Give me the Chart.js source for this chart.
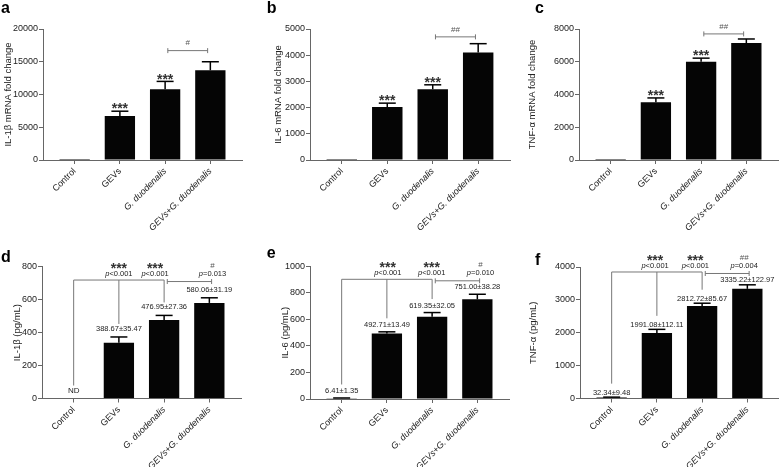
<!DOCTYPE html>
<html><head><meta charset="utf-8">
<script src="https://cdn.jsdelivr.net/npm/chart.js@4.4.0/dist/chart.umd.min.js"></script>
<style>
html,body{margin:0;padding:0;background:#fff;}
#wrap{position:relative;width:779px;height:467px;overflow:hidden;background:#fff;}
canvas{position:absolute;}
</style></head><body><div id="wrap"></div>
<script>
// ---------- data ----------
const CATEGORIES = ['Control', 'GEVs', 'G. duodenalis', 'GEVs+G. duodenalis'];

const IL1B_MRNA = [1, 6700, 10800, 13700];
const IL1B_MRNA_ERR = [0, 750, 1200, 1300];
const IL6_MRNA = [1, 2020, 2700, 4100];
const IL6_MRNA_ERR = [0, 150, 170, 340];
const TNF_MRNA = [1, 3530, 6000, 7140];
const TNF_MRNA_ERR = [0, 260, 220, 250];

const IL1B_PG = [null, 338, 476.95, 580.06];
const IL1B_PG_ERR = [0, 35.47, 27.36, 31.19];
const IL1B_PG_LABELS = ['ND', '388.67±35.47', '476.95±27.36', '580.06±31.19'];
const IL6_PG = [6.41, 492.71, 619.35, 751.00];
const IL6_PG_ERR = [1.35, 13.49, 32.05, 38.28];
const IL6_PG_LABELS = ['6.41±1.35', '492.71±13.49', '619.35±32.05', '751.00±38.28'];
const TNF_PG = [32.34, 1991.08, 2812.72, 3335.22];
const TNF_PG_ERR = [9.48, 112.11, 85.67, 122.97];
const TNF_PG_LABELS = ['32.34±9.48', '1991.08±112.11', '2812.72±85.67', '3335.22±122.97'];

const Y_TICKS_A = [0, 5000, 10000, 15000, 20000];
const Y_TICKS_B = [0, 1000, 2000, 3000, 4000, 5000];
const Y_TICKS_C = [0, 2000, 4000, 6000, 8000];
const Y_TICKS_D = [0, 200, 400, 600, 800];
const Y_TICKS_E = [0, 200, 400, 600, 800, 1000];
const Y_TICKS_F = [0, 1000, 2000, 3000, 4000];

const Y_TITLES = ['IL-1β mRNA fold change', 'IL-6 mRNA fold change', 'TNF-α mRNA fold change',
                  'IL-1β (pg/mL)', 'IL-6 (pg/mL)', 'TNF-α (pg/mL)'];
const PANEL_LETTERS = ['a', 'b', 'c', 'd', 'e', 'f'];

// ---------- style ----------
const FF = "'Liberation Sans', Arial, Helvetica, sans-serif";
const AX = '#666';
const TXT = '#222';
Chart.defaults.font.family = FF;
Chart.defaults.color = TXT;

// ---------- panel layout & annotation specs ----------
const PANELS = [
  {vals: IL1B_MRNA, errs: IL1B_MRNA_ERR, yTicks: Y_TICKS_A,
   box: {left: 0, top: 0, w: 260, h: 230, padT: 29, padR: 18, yW: 43, xH: 70, titlePad: 2.3, lx: 1, ly: 12.7},
   top: {stars: [null, '***', '***', null], starGap: 6, bracket: {from: 2.06, to: 2.94, level: 16700, text: '#'}}},
  {vals: IL6_MRNA, errs: IL6_MRNA_ERR, yTicks: Y_TICKS_B,
   box: {left: 255, top: 0, w: 260, h: 230, padT: 29, padR: 5, yW: 55, xH: 70, titlePad: 18, lx: 11.7, ly: 12.7},
   top: {stars: [null, '***', '***', null], starGap: 6, bracket: {from: 2.06, to: 2.94, level: 4700, text: '##'}}},
  {vals: TNF_MRNA, errs: TNF_MRNA_ERR, yTicks: Y_TICKS_C,
   box: {left: 515, top: 0, w: 264, h: 230, padT: 29, padR: 1, yW: 64, xH: 70, titlePad: 11.8, lx: 20, ly: 12.7},
   top: {stars: [null, '***', '***', null], starGap: 6, bracket: {from: 2.06, to: 2.94, level: 7700, text: '##'}}},
  {vals: IL1B_PG, errs: IL1B_PG_ERR, yTicks: Y_TICKS_D,
   box: {left: 0, top: 230, w: 255, h: 237, padT: 36.7, padR: 14, yW: 42, xH: 68.5, titlePad: 11.8, lx: 1, ly: 32.3},
   bottom: {labels: IL1B_PG_LABELS, labelGap: 8, lineGap: 5, level: 719, at: [0, 1, 2],
            bracket: {from: 2.07, to: 3.05},
            marks: [{x: 1, s: '***', p: '<0.001'}, {x: 1.8, s: '***', p: '<0.001'}, {x: 3.07, s: '#', p: '=0.013'}]}},
  {vals: IL6_PG, errs: IL6_PG_ERR, yTicks: Y_TICKS_E,
   box: {left: 255, top: 230, w: 260, h: 237, padT: 36.3, padR: 6, yW: 55, xH: 68, titlePad: 24.3, lx: 11.7, ly: 28.3},
   bottom: {labels: IL6_PG_LABELS, labelGap: 7, lineGap: 6.5, level: 902, at: [0, 1, 2],
            bracket: {from: 2.07, to: 3.05},
            marks: [{x: 1.02, s: '***', p: '<0.001'}, {x: 1.99, s: '***', p: '<0.001'}, {x: 3.07, s: '#', p: '=0.010'}]}},
  {vals: TNF_PG, errs: TNF_PG_ERR, yTicks: Y_TICKS_F,
   box: {left: 515, top: 230, w: 264, h: 237, padT: 37, padR: 0, yW: 65, xH: 68.5, titlePad: 12.6, lx: 20, ly: 35},
   bottom: {labels: TNF_PG_LABELS, labelGap: 4.5, lineGap: 9, level: 3848, at: [0, 1, 2],
            bracket: {from: 2.07, to: 3.04},
            marks: [{x: 0.96, s: '***', p: '<0.001'}, {x: 1.85, s: '***', p: '<0.001'}, {x: 2.93, s: '##', p: '=0.004'}]}}
];

// ---------- drawing helpers ----------
function drawStars(ctx, text, cx, cy) {
  const isHash = text.indexOf('#') >= 0;
  const size = isHash ? 8 : 14;
  ctx.font = (isHash ? '' : 'bold ') + size + 'px ' + FF;
  ctx.textAlign = 'center';
  ctx.textBaseline = 'alphabetic';
  ctx.fillStyle = isHash ? '#555' : '#333';
  ctx.fillText(text, cx, cy + (isHash ? 0.35 : 0.58) * size);
}
function drawP(ctx, rest, cx, cy) {
  const size = 7.5;
  const it = 'italic ' + size + 'px ' + FF, no = size + 'px ' + FF;
  ctx.font = it; const w1 = ctx.measureText('p').width;
  ctx.font = no; const w2 = ctx.measureText(rest).width;
  const x0 = cx - (w1 + w2) / 2;
  ctx.textAlign = 'left'; ctx.textBaseline = 'middle'; ctx.fillStyle = TXT;
  ctx.font = it; ctx.fillText('p', x0, cy);
  ctx.font = no; ctx.fillText(rest, x0 + w1, cy);
}
function line(ctx, x1, y1, x2, y2) {
  ctx.beginPath(); ctx.moveTo(x1, y1); ctx.lineTo(x2, y2); ctx.stroke();
}

function makePlugin(P, idx) {
  return {
    id: 'annot' + idx,
    afterDatasetsDraw(chart) {
      const ctx = chart.ctx, xs = chart.scales.x, ys = chart.scales.y;
      ctx.save();
      // error bars
      const caps = [];
      P.vals.forEach((v, i) => {
        const x = xs.getPixelForValue(i);
        const base = v == null ? 0 : v;
        const err = P.errs[i] || 0;
        const yTop = ys.getPixelForValue(base);
        const yCap = ys.getPixelForValue(base + err);
        caps.push(yCap);
        if (v != null && err > 0) {
          ctx.strokeStyle = '#000'; ctx.lineWidth = 1.5;
          line(ctx, x, yTop, x, yCap);
          line(ctx, x - 8.5, yCap, x + 8.5, yCap);
        }
      });
      if (P.top) {
        const T = P.top;
        T.stars.forEach((s, i) => { if (s) drawStars(ctx, s, xs.getPixelForValue(i), caps[i] - T.starGap); });
        const B = T.bracket, by = ys.getPixelForValue(B.level);
        const x1 = xs.getPixelForValue(B.from), x2 = xs.getPixelForValue(B.to);
        ctx.strokeStyle = '#777'; ctx.lineWidth = 1;
        line(ctx, x1, by, x2, by);
        line(ctx, x1, by - 2.5, x1, by + 2.5);
        line(ctx, x2, by - 2.5, x2, by + 2.5);
        drawStars(ctx, B.text, (x1 + x2) / 2, by - 8);
      }
      if (P.bottom) {
        const S = P.bottom;
        const labelY = caps.map(c => c - S.labelGap);
        ctx.fillStyle = TXT; ctx.textAlign = 'center'; ctx.textBaseline = 'middle';
        S.labels.forEach((t, i) => {
          ctx.font = (t === 'ND' ? '8px ' : '7.5px ') + FF;
          ctx.fillText(t, xs.getPixelForValue(i), labelY[i]);
        });
        const Ly = ys.getPixelForValue(S.level);
        ctx.strokeStyle = '#777'; ctx.lineWidth = 1;
        const xa = xs.getPixelForValue(S.at[0]), xb = xs.getPixelForValue(S.at[S.at.length - 1]);
        line(ctx, xa, Ly, xb, Ly);
        S.at.forEach(i => {
          const x = xs.getPixelForValue(i);
          line(ctx, x, Ly, x, labelY[i] - S.lineGap);
        });
        const bx1 = xs.getPixelForValue(S.bracket.from), bx2 = xs.getPixelForValue(S.bracket.to), by = Ly + 1.5;
        line(ctx, bx1, by, bx2, by);
        line(ctx, bx1, by - 2.5, bx1, by + 2.5);
        line(ctx, bx2, by - 2.5, bx2, by + 2.5);
        S.marks.forEach(m => {
          const x = xs.getPixelForValue(m.x);
          drawStars(ctx, m.s, x, Ly - 15);
          drawP(ctx, m.p, x, Ly - 6);
        });
      }
      ctx.font = 'bold 16px ' + FF; ctx.fillStyle = '#000'; ctx.textAlign = 'left'; ctx.textBaseline = 'alphabetic';
      ctx.fillText(PANEL_LETTERS[idx], P.box.lx, P.box.ly);
      ctx.restore();
    }
  };
}

// ---------- build charts ----------
const wrap = document.getElementById('wrap');
PANELS.forEach((P, idx) => {
  const b = P.box;
  const cv = document.createElement('canvas');
  cv.width = b.w; cv.height = b.h;
  cv.style.left = b.left + 'px'; cv.style.top = b.top + 'px';
  cv.style.width = b.w + 'px'; cv.style.height = b.h + 'px';
  wrap.appendChild(cv);
  const yMax = P.yTicks[P.yTicks.length - 1];
  new Chart(cv.getContext('2d'), {
    type: 'bar',
    data: {
      datasets: [{
        data: P.vals.map((v, i) => ({x: i, y: v})),
        backgroundColor: '#050505',
        borderWidth: 0,
        categoryPercentage: 1,
        barPercentage: 0.67
      }]
    },
    options: {
      responsive: false, animation: false, devicePixelRatio: 1,
      layout: {padding: {left: 0, top: b.padT, right: b.padR, bottom: 0}},
      plugins: {legend: {display: false}, tooltip: {enabled: false}},
      scales: {
        x: {
          type: 'linear', min: -0.7, max: 3.7, offset: false,
          afterBuildTicks: s => { s.ticks = CATEGORIES.map((c, i) => ({value: i})); },
          afterFit: s => { s.height = b.xH; },
          ticks: {
            autoSkip: false, minRotation: 45, maxRotation: 45, padding: 2, color: TXT,
            font: c => ({size: 9, family: FF, style: (c.index >= 2 ? 'italic' : 'normal')}),
            callback: v => CATEGORIES[v]
          },
          grid: {offset: false, drawOnChartArea: false, drawTicks: true, tickLength: 4, color: AX, lineWidth: 1},
          border: {display: true, color: AX, width: 1}
        },
        y: {
          min: 0, max: yMax,
          afterBuildTicks: s => { s.ticks = P.yTicks.map(v => ({value: v})); },
          afterFit: s => { s.width = b.yW; },
          ticks: {font: {size: 9, family: FF}, color: TXT, padding: 1, callback: v => String(v)},
          grid: {drawOnChartArea: false, drawTicks: true, tickLength: 4, color: AX, lineWidth: 1},
          border: {display: true, color: AX, width: 1},
          title: {display: true, text: Y_TITLES[idx], color: TXT, font: {size: 9.5, family: FF},
                  padding: {top: b.titlePad, bottom: 0}}
        }
      }
    },
    plugins: [makePlugin(P, idx)]
  });
});
</script>
</body></html>
